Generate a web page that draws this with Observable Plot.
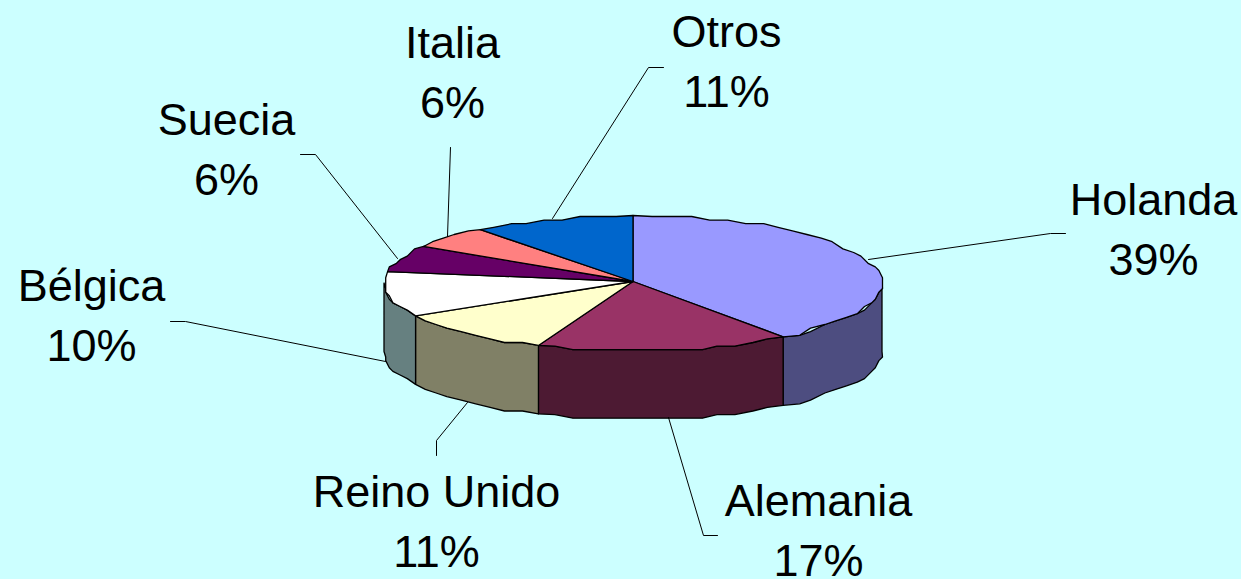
<!DOCTYPE html>
<html>
<head>
<meta charset="utf-8">
<script src="https://cdn.jsdelivr.net/npm/d3@7"></script>
<script src="https://cdn.jsdelivr.net/npm/@observablehq/plot@0.6"></script>
<style>
html,body{margin:0;padding:0;background:#CCFFFF;overflow:hidden}
svg{display:block}
</style>
</head>
<body>
<div id="chart"></div>
<script>
// Data
const categories = ["Holanda","Alemania","Reino Unido","Bélgica","Suecia","Italia","Otros"];
const shares     = [39.7,16.5,10.7,10.8,6.4,5.4,10.5];      // drawn slice sizes
const pctLabels  = ["39%","17%","11%","10%","6%","6%","11%"];

// Styles and layout, kept apart from the data
const topColors  = ["#9999FF","#993366","#FFFFCC","#FFFFFF","#660066","#FF8080","#0066CC"];
const sideColors = ["#4D4D80","#4D1A33","#808066","#668080","#330033","#804040","#003366"];
const W = 1241, H = 579;
const cx = 632.5, cy = 282.5, apexY = 281, rx = 249, ry = 67.5, depth = 68.5;
const labelPos = [[1153,225],[818,526],[436,517],[91,311],[226,145],[452,68],[726,57]];
const elbows = [
  [[1050,233],[1065,233]],
  [[703,535],[717,535]],
  [[436,440],[436,455]],
  [[185,321],[170,321]],
  [[315,154],[300,154]],
  [[450,147]],
  [[648,67],[663,67]]
];
const leaderStart = [[868,259],[668,417],[467,402],[385,361],[397,258],[447,236],[552,218]];

// Slice angles (clockwise from 12 o'clock)
const total = d3.sum(shares);
let run = 0;
const slices = categories.map((name,i)=>{
  const a0 = run/total*2*Math.PI; run += shares[i];
  return {name,i,a0,a1:run/total*2*Math.PI};
});
const grid = 3.6;
const snap = v => Math.round(v/grid)*grid;
const rimPoint = (a,dy=0,jag=true)=>{
  const x = cx+rx*Math.sin(a), y = cy-ry*Math.cos(a);
  return jag ? {x:snap(x),y:snap(y)+dy} : {x,y:y+dy};
};
const arc = (a0,a1,dy=0)=>{
  const step = 4.5*Math.PI/180;
  const n = Math.max(1,Math.ceil((a1-a0)/step));
  return d3.range(n+1).map(k=>{
    const end = k===0||k===n;
    return rimPoint(a0+(a1-a0)*k/n,dy,!end);
  });
};

const marks = [];
// Front-facing walls
for (const s of slices){
  const a0 = Math.max(s.a0,Math.PI/2), a1 = Math.min(s.a1,3*Math.PI/2);
  if (a1<=a0) continue;
  const top = arc(a0,a1,0), bot = arc(a0,a1,depth).reverse();
  marks.push(Plot.line([...top,...bot,top[0]],{x:"x",y:"y",fill:sideColors[s.i],stroke:"#000",strokeWidth:1.3,strokeLinejoin:"round"}));
}
// Top faces
for (const s of slices){
  const pts = [{x:cx,y:apexY},...arc(s.a0,s.a1),{x:cx,y:apexY}];
  marks.push(Plot.line(pts,{x:"x",y:"y",fill:topColors[s.i],stroke:"#000",strokeWidth:1.3,strokeLinejoin:"round"}));
}
// Leader lines
slices.forEach(s=>{
  const pts = [leaderStart[s.i],...elbows[s.i]].map(([x,y])=>({x,y}));
  marks.push(Plot.line(pts,{x:"x",y:"y",stroke:"#000",strokeWidth:1}));
});
// Labels
marks.push(Plot.text(slices,{
  x:d=>labelPos[d.i][0],
  y:d=>labelPos[d.i][1],
  text:d=>`${d.name}\n${pctLabels[d.i]}`,
  fontSize:45,
  lineHeight:1.345,
  fontFamily:"Liberation Sans, Arial, sans-serif",
  fill:"#000",
  textAnchor:"middle"
}));

const chart = Plot.plot({
  width:W,height:H,margin:0,
  style:{background:"#CCFFFF",maxWidth:"none"},
  x:{domain:[0,W],range:[0,W],axis:null},
  y:{domain:[0,H],range:[0,H],axis:null},
  marks
});
document.getElementById("chart").append(chart);
</script>
</body>
</html>
